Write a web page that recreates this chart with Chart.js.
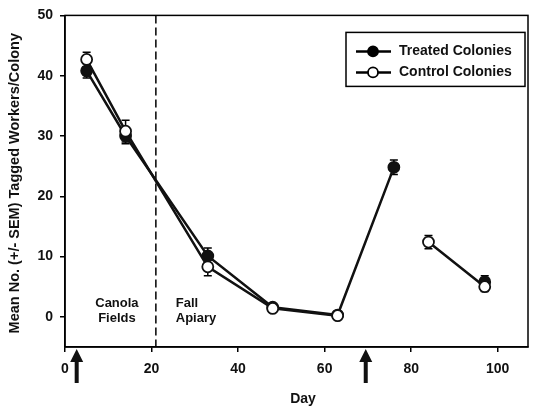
<!DOCTYPE html>
<html lang="en">
<head>
<meta charset="UTF-8">
<title>Tagged Workers per Colony</title>
<script src="https://cdn.jsdelivr.net/npm/chart.js"></script>
<style>
  html, body { margin: 0; padding: 0; background: #fff; }
  #wrap { width: 537px; height: 409px; }
</style>
</head>
<body>
<div id="wrap"><canvas id="chart"></canvas></div>
<script>
const days = [5, 14, 33, 48, 63, 76, 84, 97];
const treated = [40.8, 30.0, 10.1, 1.6, 0.3, 24.8, null, 5.8];
const treatedErr = [1.2, 1.3, 1.3, 0.4, 0.3, 1.2, null, 1.0];
const control = [42.7, 30.8, 8.3, 1.4, 0.2, null, 12.4, 5.0];
const controlErr = [1.2, 1.8, 1.5, 0.4, 0.3, null, 1.1, 0.8];
const xTicks = [0, 20, 40, 60, 80, 100];
const yTicks = [0, 10, 20, 30, 40, 50];
const seasonSplitDay = 21;
const arrowDays = [2.7, 69.5];

const FONT = '"Liberation Sans", Arial, sans-serif';

function pts(vals) {
  return days.map((d, i) => ({ x: d, y: vals[i] }));
}

const decor = {
  id: 'decor',
  beforeDatasetsDraw(chart) {
    const { ctx, chartArea: a, scales: { x, y } } = chart;
    ctx.save();
    // dashed season divider
    ctx.strokeStyle = '#000';
    ctx.lineWidth = 1.5;
    ctx.setLineDash([8, 4]);
    const dx = x.getPixelForValue(seasonSplitDay);
    ctx.beginPath();
    ctx.moveTo(dx, a.top);
    ctx.lineTo(dx, a.bottom);
    ctx.stroke();
    ctx.setLineDash([]);
    // error bars
    ctx.lineWidth = 1.5;
    [[treated, treatedErr], [control, controlErr]].forEach(([vals, errs]) => {
      days.forEach((d, i) => {
        if (vals[i] == null) return;
        const px = x.getPixelForValue(d);
        const hi = y.getPixelForValue(vals[i] + errs[i]);
        const lo = y.getPixelForValue(vals[i] - errs[i]);
        ctx.beginPath();
        ctx.moveTo(px, hi); ctx.lineTo(px, lo);
        ctx.moveTo(px - 4, hi); ctx.lineTo(px + 4, hi);
        ctx.moveTo(px - 4, lo); ctx.lineTo(px + 4, lo);
        ctx.stroke();
      });
    });
    ctx.restore();
  },
  afterDraw(chart) {
    const { ctx, chartArea: a, scales: { x, y } } = chart;
    ctx.save();
    // frame
    ctx.strokeStyle = '#000';
    ctx.lineWidth = 1.5;
    ctx.strokeRect(a.left, a.top, a.right - a.left, a.bottom - a.top);

    // region labels
    ctx.fillStyle = '#111';
    ctx.font = 'bold 13px ' + FONT;
    ctx.textBaseline = 'middle';
    ctx.textAlign = 'center';
    ctx.fillText('Canola', x.getPixelForValue(12), y.getPixelForValue(2.3));
    ctx.fillText('Fields', x.getPixelForValue(12), y.getPixelForValue(-0.2));
    ctx.textAlign = 'left';
    ctx.fillText('Fall', x.getPixelForValue(25.6), y.getPixelForValue(2.3));
    ctx.fillText('Apiary', x.getPixelForValue(25.6), y.getPixelForValue(-0.2));

    // arrows under the axis
    arrowDays.forEach(d => {
      const px = x.getPixelForValue(d);
      const top = a.bottom + 2;
      ctx.fillStyle = '#111';
      ctx.beginPath();
      ctx.moveTo(px, top);
      ctx.lineTo(px - 6.5, top + 13);
      ctx.lineTo(px + 6.5, top + 13);
      ctx.closePath();
      ctx.fill();
      ctx.fillRect(px - 2, top + 10, 4, 24);
    });

    // axis titles
    ctx.fillStyle = '#111';
    ctx.font = 'bold 14px ' + FONT;
    ctx.textAlign = 'center';
    ctx.textBaseline = 'middle';
    ctx.fillText('Day', x.getPixelForValue(55), 399);
    ctx.save();
    ctx.translate(15, (a.top + a.bottom) / 2 + 2);
    ctx.rotate(-Math.PI / 2);
    ctx.font = 'bold 14.5px ' + FONT;
    ctx.fillText('Mean No. (+/- SEM) Tagged Workers/Colony', 0, 0);
    ctx.restore();

    // legend box
    const lx = a.right - 182, ly = a.top + 17, lw = 179, lh = 54;
    ctx.lineWidth = 1.5;
    ctx.strokeStyle = '#000';
    ctx.strokeRect(lx, ly, lw, lh);
    const rows = [['Treated Colonies', '#000'], ['Control Colonies', '#fff']];
    rows.forEach(([label, fill], i) => {
      const cy = ly + 19 + i * 21;
      ctx.lineWidth = 2.5;
      ctx.beginPath();
      ctx.moveTo(lx + 10, cy); ctx.lineTo(lx + 45, cy);
      ctx.stroke();
      ctx.beginPath();
      ctx.arc(lx + 27, cy, 5, 0, Math.PI * 2);
      ctx.fillStyle = fill;
      ctx.fill();
      ctx.lineWidth = 1.8;
      ctx.stroke();
      ctx.fillStyle = '#111';
      ctx.font = 'bold 14px ' + FONT;
      ctx.textAlign = 'left';
      ctx.fillText(label, lx + 53, cy);
    });
    ctx.restore();
  }
};

new Chart(document.getElementById('chart'), {
  type: 'line',
  data: {
    datasets: [
      {
        label: 'Control Colonies',
        data: pts(control),
        borderColor: '#111',
        borderWidth: 2.5,
        pointRadius: 5.5,
        pointBackgroundColor: '#fff',
        pointBorderColor: '#111',
        pointBorderWidth: 1.8,
        spanGaps: false,
        tension: 0
      },
      {
        label: 'Treated Colonies',
        data: pts(treated),
        borderColor: '#111',
        borderWidth: 2.5,
        pointRadius: 5.5,
        pointBackgroundColor: '#111',
        pointBorderColor: '#111',
        pointBorderWidth: 1.8,
        spanGaps: false,
        tension: 0
      }
    ]
  },
  options: {
    responsive: true,
    maintainAspectRatio: false,
    animation: false,
    layout: { padding: { top: 13, right: 9, left: 0, bottom: 0 } },
    plugins: { legend: { display: false }, tooltip: { enabled: false } },
    scales: {
      x: {
        type: 'linear',
        min: 0,
        max: 107,
        afterBuildTicks: s => { s.ticks = xTicks.map(v => ({ value: v })); },
        afterFit: s => { s.height = 62; },
        grid: { drawOnChartArea: false, tickLength: 5, color: '#000', lineWidth: 1.5 },
        border: { color: '#000', width: 1.5 },
        ticks: { color: '#111', padding: 9, maxRotation: 0, font: { family: FONT, size: 14, weight: 'bold' } }
      },
      y: {
        min: -5,
        max: 50,
        afterBuildTicks: s => { s.ticks = yTicks.map(v => ({ value: v })); },
        afterFit: s => { s.width = 65; },
        grid: { drawOnChartArea: false, tickLength: 5, color: '#000', lineWidth: 1.5 },
        border: { color: '#000', width: 1.5 },
        ticks: { color: '#111', padding: 7, font: { family: FONT, size: 14, weight: 'bold' } }
      }
    }
  },
  plugins: [decor]
});
</script>
</body>
</html>
